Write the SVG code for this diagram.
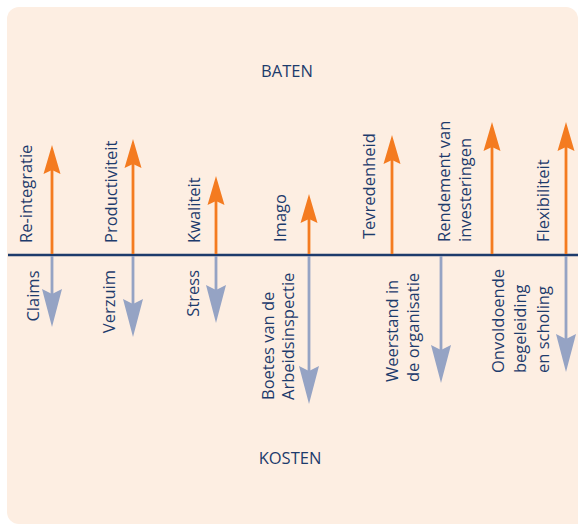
<svg xmlns="http://www.w3.org/2000/svg" width="578" height="524" viewBox="0 0 578 524">
<style>
  text { font-family: "Open Sans", "Noto Sans", sans-serif; font-size: 16.5px; fill: #1D3B6C; }
  .up { stroke: #F47B20; stroke-width: 2.8; fill: none; }
  .dn { stroke: #95A3C4; stroke-width: 2.8; fill: none; }
  .axis { stroke: #1D3B6C; stroke-width: 2.4; }
</style>
<defs>
  <marker id="headUp" markerUnits="userSpaceOnUse" viewBox="-6 -10 32 20" refX="0" refY="0" markerWidth="32" markerHeight="20" orient="auto" overflow="visible">
    <path d="M25,0 L-4,8.5 L0,0 L-4,-8.5 Z" fill="#F47B20"/>
  </marker>
  <marker id="headDn" markerUnits="userSpaceOnUse" viewBox="-6 -11 40 22" refX="0" refY="0" markerWidth="40" markerHeight="22" orient="auto" overflow="visible">
    <path d="M33,0 L-5,10 L0,0 L-5,-10 Z" fill="#95A3C4"/>
  </marker>
</defs>
<path d="M19,7 H566 A12,12 0 0 1 578,19 V524 H19 A12,12 0 0 1 7,512 V19 A12,12 0 0 1 19,7 Z" fill="#FDEEE2"/>
<g id="title-baten"><text x="287" y="77" text-anchor="middle">BATEN</text></g>
<g id="title-kosten"><text x="290" y="464" text-anchor="middle">KOSTEN</text></g>
<g id="connectors">
  <line class="axis" x1="8" y1="255" x2="578" y2="255"/>
  <line class="up" x1="52" y1="254" x2="52" y2="170" marker-end="url(#headUp)"/>
  <line class="up" x1="133" y1="254" x2="133" y2="164" marker-end="url(#headUp)"/>
  <line class="up" x1="216" y1="254" x2="216" y2="201" marker-end="url(#headUp)"/>
  <line class="up" x1="309" y1="254" x2="309" y2="219" marker-end="url(#headUp)"/>
  <line class="up" x1="392" y1="254" x2="392" y2="160" marker-end="url(#headUp)"/>
  <line class="up" x1="492" y1="254" x2="492" y2="147" marker-end="url(#headUp)"/>
  <line class="up" x1="566" y1="254" x2="566" y2="147" marker-end="url(#headUp)"/>
  <line class="dn" x1="52" y1="256" x2="52" y2="294" marker-end="url(#headDn)"/>
  <line class="dn" x1="133" y1="256" x2="133" y2="304" marker-end="url(#headDn)"/>
  <line class="dn" x1="216" y1="256" x2="216" y2="290" marker-end="url(#headDn)"/>
  <line class="dn" x1="309" y1="256" x2="309" y2="371" marker-end="url(#headDn)"/>
  <line class="dn" x1="441" y1="256" x2="441" y2="350" marker-end="url(#headDn)"/>
  <line class="dn" x1="566" y1="256" x2="566" y2="339" marker-end="url(#headDn)"/>
</g>
<g id="re-integratie"><text transform="translate(31.5,243) rotate(-90)">Re-integratie</text></g>
<g id="productiviteit"><text transform="translate(117,243) rotate(-90)">Productiviteit</text></g>
<g id="kwaliteit"><text transform="translate(200,243) rotate(-90)">Kwaliteit</text></g>
<g id="imago"><text transform="translate(286,242) rotate(-90)">Imago</text></g>
<g id="tevredenheid"><text transform="translate(374.5,239) rotate(-90)">Tevredenheid</text></g>
<g id="rendement"><text transform="translate(450,242) rotate(-90)">Rendement van</text><text transform="translate(471,242) rotate(-90)">investeringen</text></g>
<g id="flexibiliteit"><text transform="translate(549,242) rotate(-90)">Flexibiliteit</text></g>
<g id="claims"><text transform="translate(39,270.5) rotate(-90)" text-anchor="end">Claims</text></g>
<g id="verzuim"><text transform="translate(114.5,270) rotate(-90)" text-anchor="end">Verzuim</text></g>
<g id="stress"><text transform="translate(199,270) rotate(-90)" text-anchor="end">Stress</text></g>
<g id="boetes"><text transform="translate(274,400) rotate(-90)">Boetes van de</text><text transform="translate(294,400) rotate(-90)">Arbeidsinspectie</text></g>
<g id="weerstand"><text transform="translate(397.5,382) rotate(-90)">Weerstand in</text><text transform="translate(418.5,382) rotate(-90)">de organisatie</text></g>
<g id="onvoldoende"><text transform="translate(503.5,373) rotate(-90)">Onvoldoende</text><text transform="translate(526,373) rotate(-90)">begeleiding</text><text transform="translate(549,373) rotate(-90)">en scholing</text></g>
</svg>
